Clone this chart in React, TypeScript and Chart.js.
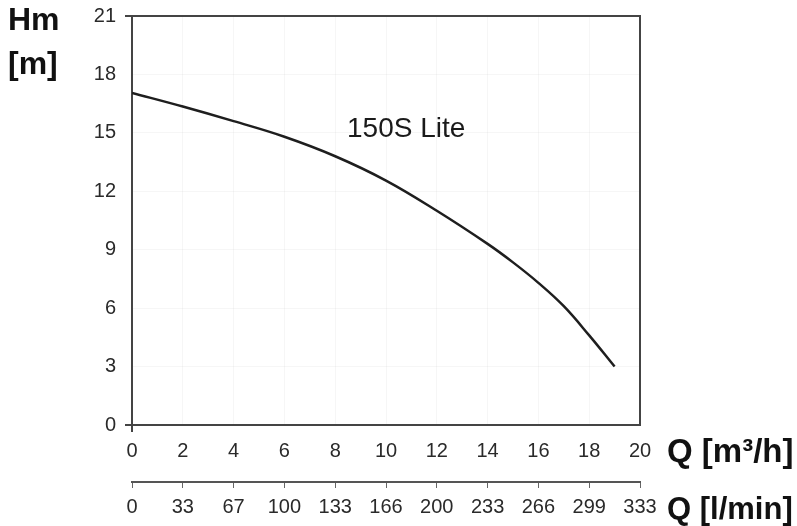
import React, { useEffect, useRef } from "react";
import { Chart, registerables } from "chart.js";

Chart.register(...registerables);

// Data
const flowM3h = [0, 2, 4, 6, 8, 10, 12, 14, 15, 16, 17, 18, 19];
const headM = [17.05, 16.35, 15.6, 14.8, 13.8, 12.55, 11.0, 9.3, 8.35, 7.3, 6.1, 4.6, 3.0];
const xTicksLmin = ["0", "33", "67", "100", "133", "166", "200", "233", "266", "299", "333"];
const seriesName = "150S Lite";

const FONT = "'Liberation Sans', Arial, sans-serif";

const framePlugin = {
  id: "frame",
  afterDraw(chart: any) {
    const { ctx, chartArea } = chart;
    const { left, right, top, bottom } = chartArea;
    ctx.save();
    ctx.strokeStyle = "#444";
    ctx.lineWidth = 2;
    ctx.beginPath();
    ctx.moveTo(left - 7, top);
    ctx.lineTo(right, top);
    ctx.lineTo(right, bottom + 1);
    ctx.moveTo(left - 7, bottom);
    ctx.lineTo(left, bottom);
    ctx.moveTo(left, bottom);
    ctx.lineTo(left, bottom + 7);
    ctx.stroke();
    ctx.restore();
  },
};

const zeroPad = (s: any) => {
  s.paddingTop = 0;
  s.paddingBottom = 0;
  s.paddingLeft = 0;
  s.paddingRight = 0;
};

export default function App() {
  const ref = useRef<HTMLCanvasElement>(null);

  useEffect(() => {
    if (!ref.current) return;
    const chart = new Chart(ref.current, {
      type: "line",
      data: {
        datasets: [
          {
            label: seriesName,
            data: flowM3h.map((q, i) => ({ x: q, y: headM[i] })),
            borderColor: "#1e1e1e",
            borderWidth: 2.5,
            pointRadius: 0,
            fill: false,
            tension: 0.4,
            xAxisID: "x",
            yAxisID: "y",
          },
        ],
      },
      options: {
        responsive: false,
        animation: false,
        layout: { padding: { left: 0, top: 16, right: 157, bottom: 0 } },
        plugins: { legend: { display: false }, tooltip: { enabled: false } },
        scales: {
          x: {
            type: "linear",
            position: "bottom",
            min: 0,
            max: 20,
            ticks: {
              stepSize: 2,
              autoSkip: false,
              maxRotation: 0,
              padding: 14,
              color: "#2a2a2a",
              font: { family: FONT, size: 20 },
            },
            grid: { color: "rgba(0,0,0,0.035)", drawTicks: false },
            border: { color: "#444", width: 2 },
            afterFit: (s: any) => {
              s.height = 57;
              zeroPad(s);
            },
          },
          x2: {
            type: "linear",
            position: "bottom",
            min: 0,
            max: 20,
            ticks: {
              stepSize: 2,
              autoSkip: false,
              maxRotation: 0,
              padding: 7,
              color: "#2a2a2a",
              font: { family: FONT, size: 20 },
              callback: (v: any) => xTicksLmin[Math.round(Number(v) / 2)] ?? "",
            },
            grid: { drawOnChartArea: false, drawTicks: true, tickLength: 6, tickColor: "#666", tickWidth: 1 },
            border: { display: true, color: "#555", width: 2 },
            afterFit: (s: any) => {
              s.height = 44;
              zeroPad(s);
            },
          },
          y: {
            type: "linear",
            min: 0,
            max: 21,
            ticks: {
              stepSize: 3,
              autoSkip: false,
              padding: 16,
              color: "#2a2a2a",
              font: { family: FONT, size: 20 },
            },
            grid: { color: "rgba(0,0,0,0.035)", drawTicks: false },
            border: { color: "#444", width: 2 },
            afterFit: (s: any) => {
              s.width = 132;
              zeroPad(s);
            },
          },
        },
      },
      plugins: [framePlugin],
    });
    return () => chart.destroy();
  }, []);

  const bold: React.CSSProperties = {
    position: "absolute",
    fontFamily: FONT,
    fontWeight: "bold",
    fontSize: 32,
    lineHeight: "32px",
    color: "#111",
    whiteSpace: "nowrap",
  };

  return (
    <div style={{ position: "absolute", left: 0, top: 0, width: 797, height: 526, background: "#fff" }}>
      <canvas ref={ref} width={797} height={526} style={{ display: "block" }} />
      <div style={{ ...bold, left: 8, top: 3 }}>Hm</div>
      <div style={{ ...bold, left: 8, top: 47 }}>[m]</div>
      <div style={{ ...bold, left: 667, top: 435, fontSize: 33 }}>Q [m³/h]</div>
      <div style={{ ...bold, left: 667, top: 493, fontSize: 31 }}>Q [l/min]</div>
      <div
        style={{
          position: "absolute",
          left: 347,
          top: 114,
          fontFamily: FONT,
          fontSize: 28,
          lineHeight: "28px",
          color: "#1a1a1a",
          whiteSpace: "nowrap",
        }}
      >
        {seriesName}
      </div>
    </div>
  );
}
